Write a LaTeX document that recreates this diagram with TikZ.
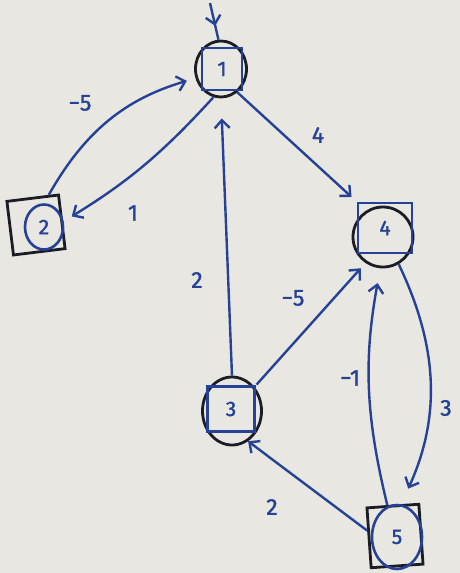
\documentclass[tikz,border=0pt]{standalone}
\usepackage{fontspec}
\setmainfont{Fira Sans}
\newfontfamily\inkfont[FakeBold=1.5]{Fira Sans}
\usetikzlibrary{arrows.meta,decorations.markings,shapes.geometric}
\definecolor{inkblue}{RGB}{38,66,150}
\definecolor{inkblack}{RGB}{28,28,38}
\definecolor{paper}{RGB}{233,231,225}
\begin{document}
\begin{tikzpicture}[x=1pt,y=1pt,
  blackring/.style={ellipse, draw=inkblack, line width=2.8pt, inner sep=0pt},
  blackbox/.style={rectangle, draw=inkblack, line width=2.8pt, inner sep=0pt},
  bluering/.style={ellipse, draw=inkblue, line width=2.6pt, inner sep=0pt, text=inkblue, font=\inkfont\fontsize{21}{23}\selectfont},
  bluebox/.style={rectangle, draw=inkblue, line width=2.6pt, inner sep=0pt, text=inkblue, font=\inkfont\fontsize{21}{23}\selectfont},
  tip/.style={-{Straight Barb[length=8pt,width=15pt,line width=2.4pt]}},
  edgeline/.style={draw=inkblue, line width=2.4pt, tip},
  weight/.style={text=inkblue, font=\inkfont\fontsize{23}{25}\selectfont, inner sep=1pt},
  midtip/.style={decoration={markings, mark=at position 0.62 with {\arrow{Straight Barb[length=8pt,width=15pt,line width=2.4pt]}}}, postaction={decorate}}
]
\fill[paper] (0,0) rectangle (460,-573);
\useasboundingbox (0,0) rectangle (460,-573);

% node 1
\node[blackring, minimum width=51pt, minimum height=56pt] (n1) at (221,-69) {};
\node[bluebox, minimum width=40pt, minimum height=42pt] (n1s) at (222,-69) {1};
% node 2
\node[blackbox, rotate=7, minimum width=52pt, minimum height=54pt] (n2) at (36,-225) {};
\node[bluering, minimum width=38pt, minimum height=45pt] (n2c) at (44,-227) {2};
% node 4
\node[blackring, minimum width=60pt, minimum height=60pt] (n4) at (383,-237) {};
\node[bluebox, minimum width=54pt, minimum height=50pt] (n4s) at (385,-228) {4};
% node 3
\node[blackring, minimum width=59pt, minimum height=68pt] (n3) at (232,-411) {};
\node[bluebox, minimum width=47pt, minimum height=45pt] (n3s) at (231,-409) {3};
% node 5
\node[blackbox, rotate=4, minimum width=52pt, minimum height=60pt] (n5) at (395,-536) {};
\node[bluering, minimum width=50pt, minimum height=64pt] (n5c) at (397,-537) {5};

% start arrow
\coordinate (s) at (210,-3);
\draw[draw=inkblue, line width=2.4pt, midtip] (s) -- (n1.95);

% edges
\draw[edgeline, shorten >=9pt] (n2.60) to[bend left=22] (n1.200);
\draw[edgeline, shorten >=10pt] (n1.255) to[bend left=8] (n2.east);
\draw[edgeline, shorten >=7pt] (n1.-55) -- (n4s.north west);
\draw[edgeline, shorten >=20pt] (n3.north) -- (n1.south);
\draw[edgeline, shorten >=7pt, shorten <=3pt] (n3.47) -- (n4.236);
\draw[edgeline, shorten >=17pt] (n4.-60) to[bend left=25] (n5.75);
\draw[edgeline, shorten >=15pt] (n5.100) to[bend left=12] (n4.265);
\draw[edgeline] (n5.165) -- (n3.-62);

% weights
\node[weight] (w21) at (80,-103) {−5};
\node[weight] (w12) at (133,-213) {1};
\node[weight] (w14) at (318,-135) {4};
\node[weight] (w31) at (197,-280) {2};
\node[weight] (w34) at (293,-298) {−5};
\node[weight] (w54) at (350,-378) {−1};
\node[weight] (w45) at (446,-408) {3};
\node[weight] (w53) at (272,-507) {2};
\end{tikzpicture}
\end{document}
